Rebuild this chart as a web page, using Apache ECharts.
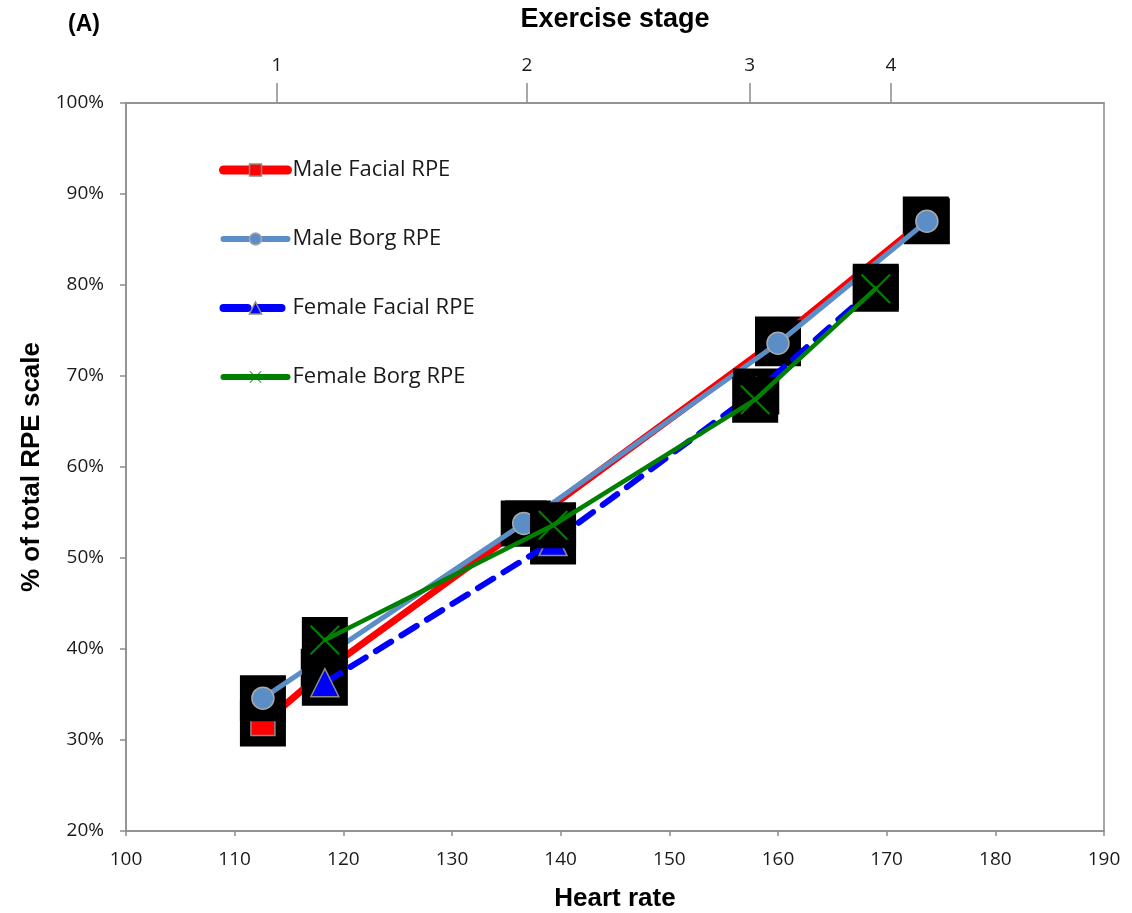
<!DOCTYPE html>
<html>
<head>
<meta charset="utf-8">
<script src="https://cdn.jsdelivr.net/npm/echarts@6/dist/echarts.min.js"></script>
<style>
  html, body { margin: 0; padding: 0; background: #fff; }
  #main { width: 1132px; height: 913px; }
</style>
</head>
<body>
<div id="main"></div>
<script>
// data
var seriesNames = ['Male Facial RPE', 'Male Borg RPE', 'Female Facial RPE', 'Female Borg RPE'];

var hrMaleFacial = [112.6, 118.2, 137.0, 160.0, 173.6];
var pctMaleFacial = [31.8, 37.5, 53.8, 74.0, 87.2];

var hrMaleBorg = [112.6, 136.6, 160.0, 173.7];
var pctMaleBorg = [34.6, 53.8, 73.6, 87.0];

var hrFemaleFacial = [118.3, 139.3, 158.0, 169.0];
var pctFemaleFacial = [36.3, 51.8, 68.3, 79.8];

var hrFemaleBorg = [118.3, 139.3, 157.9, 169.0];
var pctFemaleBorg = [41.0, 53.6, 67.4, 79.6];

// top axis: exercise stage positions on heart rate scale
var stageHR = [113.9, 136.9, 157.4, 170.4];
var stageLabels = ['1', '2', '3', '4'];

function pairs(xs, ys) {
    var out = [];
    for (var i = 0; i < xs.length; i++) out.push([xs[i], ys[i]]);
    return out;
}

var crossPath = 'path://M0,5 L5,0 L50,45 L95,0 L100,5 L55,50 L100,95 L95,100 L50,55 L5,100 L0,95 L45,50 Z';

var defs = [
    { name: seriesNames[0], data: pairs(hrMaleFacial, pctMaleFacial), color: '#ff0000', width: 7, type: 'solid',
      symbol: 'rect', size: 24, border: '#8a8a8a', legendWidth: 9 },
    { name: seriesNames[1], data: pairs(hrMaleBorg, pctMaleBorg), color: '#5b8dc6', width: 5, type: 'solid',
      symbol: 'circle', size: 22, border: '#a8a8a8', legendWidth: 6 },
    { name: seriesNames[2], data: pairs(hrFemaleFacial, pctFemaleFacial), color: '#0000ff', width: 6, type: [18, 12],
      symbol: 'triangle', size: 28, border: '#8a8a8a', legendWidth: 8 },
    { name: seriesNames[3], data: pairs(hrFemaleBorg, pctFemaleBorg), color: '#008000', width: 4.5, type: 'solid',
      symbol: crossPath, size: 30, border: null, legendWidth: 6 }
];

var series = [];
var legendData = [];
defs.forEach(function (d, i) {
    // black square behind each marker
    series.push({
        type: 'scatter',
        name: d.name + ' box',
        data: d.data,
        symbol: 'rect',
        symbolSize: 46,
        itemStyle: { color: '#000', opacity: 1 },
        silent: true,
        z: 10 + i * 2
    });
    series.push({
        type: 'line',
        name: d.name,
        data: d.data,
        symbol: d.symbol,
        symbolSize: d.size,
        showAllSymbol: true,
        lineStyle: { color: d.color, width: d.width, type: d.type, cap: 'round' },
        itemStyle: d.border ? { color: d.color, borderColor: d.border, borderWidth: 1.5 } : { color: d.color },
        emphasis: { disabled: true },
        z: 11 + i * 2
    });
    legendData.push({
        name: d.name,
        lineStyle: { width: d.legendWidth, cap: 'round', type: d.type === 'solid' ? 'solid' : [24, 10] }
    });
});

var axisColor = '#8c8c8c';
var tickFont = { fontFamily: 'Open Sans', fontSize: 19, color: '#1a1a1a' };

var myChart = echarts.init(document.getElementById('main'));
var option = {
    animation: false,
    backgroundColor: '#fff',
    grid: {
        left: 126, right: 28, top: 103, bottom: 82,
        outerBoundsMode: 'none',
        show: true, borderColor: axisColor, borderWidth: 1.5
    },
    graphic: [{
        type: 'text', left: 68, top: 13,
        style: { text: '(A)', font: 'bold 23px "Liberation Sans"', fill: '#000' }
    }],
    legend: {
        data: legendData,
        orient: 'vertical',
        left: 219,
        top: 159,
        padding: 0,
        itemWidth: 64,
        itemHeight: 15,
        itemGap: 47,
        itemStyle: { borderWidth: 1.5 },
        textStyle: { fontFamily: 'Open Sans', fontSize: 22, color: '#1a1a1a' }
    },
    xAxis: [{
        type: 'value',
        min: 100, max: 190, interval: 10,
        name: 'Heart rate',
        nameLocation: 'middle',
        nameGap: 55,
        nameTextStyle: { fontFamily: 'Liberation Sans', fontWeight: 'bold', fontSize: 26, color: '#000' },
        axisLine: { lineStyle: { color: axisColor, width: 1.5 } },
        axisTick: { show: true, length: 5, lineStyle: { color: axisColor, width: 1.5 } },
        axisLabel: Object.assign({ margin: 19 }, tickFont),
        splitLine: { show: false }
    }, {
        type: 'value',
        position: 'top',
        min: 100, max: 190,
        name: 'Exercise stage',
        nameLocation: 'middle',
        nameGap: 70,
        nameTextStyle: { fontFamily: 'Liberation Sans', fontWeight: 'bold', fontSize: 27, color: '#000' },
        axisLine: { show: true, lineStyle: { color: axisColor, width: 1.5 } },
        axisTick: { show: true, length: 20, customValues: stageHR, lineStyle: { color: axisColor, width: 1.5 } },
        axisLabel: Object.assign({
            margin: 28,
            customValues: stageHR,
            formatter: function (v) {
                var k = stageHR.indexOf(v);
                return k >= 0 ? stageLabels[k] : '';
            }
        }, tickFont),
        splitLine: { show: false }
    }],
    yAxis: {
        type: 'value',
        min: 20, max: 100, interval: 10,
        name: '% of total RPE scale',
        nameLocation: 'middle',
        nameGap: 81,
        nameTextStyle: { fontFamily: 'Liberation Sans', fontWeight: 'bold', fontSize: 26, color: '#000' },
        axisLine: { show: true, lineStyle: { color: axisColor, width: 1.5 } },
        axisTick: { show: true, length: 6, lineStyle: { color: axisColor, width: 1.5 } },
        axisLabel: Object.assign({ margin: 22, formatter: function (v) { return v + '%'; } }, tickFont),
        splitLine: { show: false }
    },
    series: series
};
myChart.setOption(option);
</script>
</body>
</html>
